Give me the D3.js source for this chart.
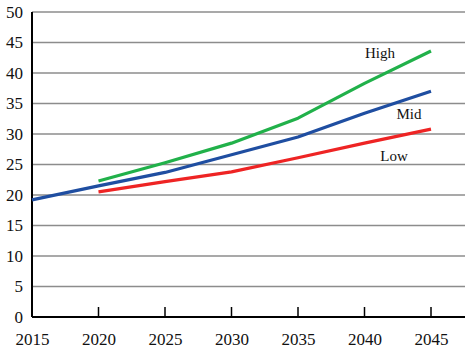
<!DOCTYPE html>
<html>
<head>
<meta charset="utf-8">
<script src="https://cdn.jsdelivr.net/npm/d3@7"></script>
<style>
  body { margin: 0; background: #fff; }
  svg text { font-family: 'Liberation Serif', 'Times New Roman', serif !important; fill: #111; }
</style>
</head>
<body>
<div id="chart"></div>
<script>
// data
var years = [2015, 2020, 2025, 2030, 2035, 2040, 2045];
var midValues  = [19.2, 21.5, 23.7, 26.6, 29.5, 33.4, 37.0];
var highValues = [null, 22.3, 25.3, 28.5, 32.6, 38.3, 43.6];
var lowValues  = [null, 20.5, 22.2, 23.8, 26.1, 28.5, 30.8];
var yTicks = [0, 5, 10, 15, 20, 25, 30, 35, 40, 45, 50];
var xTicks = [2015, 2020, 2025, 2030, 2035, 2040, 2045];

var series = [
  { name: 'High', values: highValues, color: '#21b14a', label: [380, 53] },
  { name: 'Mid',  values: midValues,  color: '#1f4ea1', label: [409, 114] },
  { name: 'Low',  values: lowValues,  color: '#ee2424', label: [394, 156] }
];

var serif = "'Liberation Serif', 'Times New Roman', serif";
var svgWidth = 468, svgHeight = 350;
var plotLeft = 32, plotRight = 465, plotTop = 12, plotBottom = 317;

var svg = d3.select('#chart').append('svg')
  .attr('width', svgWidth)
  .attr('height', svgHeight);

var x = d3.scaleLinear()
  .domain([2015, 2045])
  .range([plotLeft, 431]);

var y = d3.scaleLinear()
  .domain([0, 50])
  .range([plotBottom, plotTop]);

// gridlines
svg.append('g')
  .selectAll('line')
  .data(yTicks.filter(function(d) { return d > 0; }))
  .join('line')
  .attr('x1', plotLeft)
  .attr('x2', plotRight)
  .attr('y1', function(d) { return y(d); })
  .attr('y2', function(d) { return y(d); })
  .attr('stroke', '#8c8c8c')
  .attr('stroke-width', 1.3);

// y axis labels
var yAxis = d3.axisLeft(y).tickValues(yTicks).tickSize(0).tickPadding(9);
var gy = svg.append('g')
  .attr('transform', 'translate(' + plotLeft + ',0)')
  .call(yAxis);
gy.attr('font-family', serif).attr('font-size', 17);
gy.select('.domain').remove();
gy.selectAll('text')
  .attr('font-family', serif)
  .style('font-size', '17px')
  .attr('fill', '#111');

// x axis labels
var xAxis = d3.axisBottom(x).tickValues(xTicks).tickSize(0).tickPadding(16)
  .tickFormat(d3.format('d'));
var gx = svg.append('g')
  .attr('transform', 'translate(0,' + plotBottom + ')')
  .call(xAxis);
gx.attr('font-family', serif).attr('font-size', 17);
gx.select('.domain').remove();
gx.selectAll('text')
  .attr('font-family', serif)
  .style('font-size', '17px')
  .attr('fill', '#111');

// inner tick marks
svg.append('g')
  .selectAll('line')
  .data(xTicks.slice(1))
  .join('line')
  .attr('x1', function(d) { return x(d); })
  .attr('x2', function(d) { return x(d); })
  .attr('y1', plotBottom)
  .attr('y2', plotBottom - 10)
  .attr('stroke', '#000')
  .attr('stroke-width', 1.5);

// axis lines
svg.append('line')
  .attr('x1', plotLeft).attr('x2', plotLeft)
  .attr('y1', plotTop).attr('y2', plotBottom)
  .attr('stroke', '#000').attr('stroke-width', 2);
svg.append('line')
  .attr('x1', plotLeft).attr('x2', plotRight)
  .attr('y1', plotBottom).attr('y2', plotBottom)
  .attr('stroke', '#000').attr('stroke-width', 2);

// lines
var line = d3.line()
  .defined(function(d) { return d[1] != null; })
  .x(function(d) { return x(d[0]); })
  .y(function(d) { return y(d[1]); });

svg.append('g')
  .selectAll('path')
  .data(series)
  .join('path')
  .attr('d', function(s) {
    return line(years.map(function(yr, i) { return [yr, s.values[i]]; }));
  })
  .attr('fill', 'none')
  .attr('stroke', function(s) { return s.color; })
  .attr('stroke-width', 3.2)
  .attr('stroke-linejoin', 'round');

// series labels
svg.append('g')
  .selectAll('text')
  .data(series)
  .join('text')
  .attr('x', function(s) { return s.label[0]; })
  .attr('y', function(s) { return s.label[1]; })
  .attr('text-anchor', 'middle')
  .attr('dominant-baseline', 'central')
  .attr('font-family', serif)
  .style('font-size', '15px')
  .text(function(s) { return s.name; });
</script>
</body>
</html>
